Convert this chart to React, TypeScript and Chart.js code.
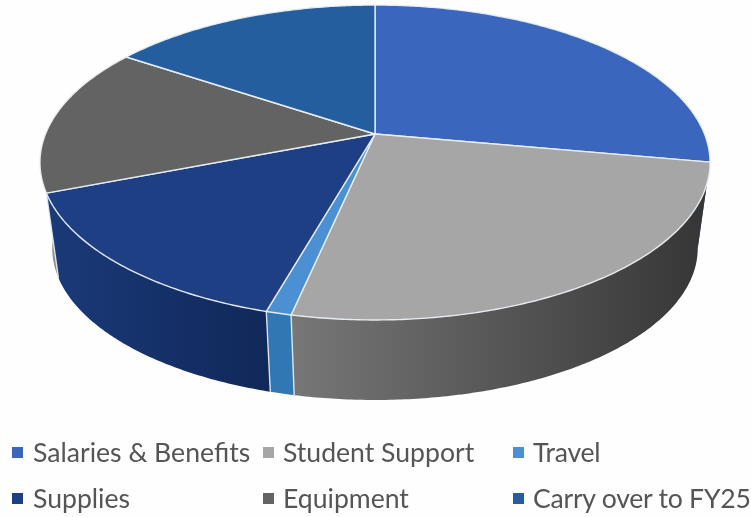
import React, { useEffect, useRef } from "react";
import { Chart, registerables } from "chart.js";

Chart.register(...registerables);

const categories = ["Salaries & Benefits", "Student Support", "Travel", "Supplies", "Equipment", "Carry over to FY25"];
const shares = [27.85, 25.5, 1.03, 14.7, 15.3, 15.6];
const topColors = ["#3b66bd", "#a6a6a6", "#4a90d2", "#1f3f85", "#636363", "#255e9e"];
const wallNear = ["#2a4a8c", "#777777", "#2f78b4", "#1a3a78", "#8a8a8a", "#1c4674"];
const wallFar = ["#2a4a8c", "#353535", "#2f78b4", "#11285a", "#8a8a8a", "#1c4674"];
const legendMarkerColumns = [12, 263, 513];
const legendTextColumns = [33, 283, 533];
const legendColumnTracking = [0, 0, -0.25];
const legendRows = [452, 498];

// Perspective applied to the disc, and the point its walls converge on.
const CX = 375;
const CY = 134;
const RX = 329.5;
const RY = 152.3;
const TILT = 0.181;
const VANISH_Y = 2500;
const DEPTH_SCALE = 0.9633;

type Pt = { x: number; y: number };

const rimPoint = (angle: number): Pt => {
  const w = 1 - TILT * Math.sin(angle);
  return { x: CX + (RX * Math.cos(angle)) / w, y: CY + (RY * Math.sin(angle)) / w };
};

const dropPoint = (p: Pt): Pt => ({
  x: CX + DEPTH_SCALE * (p.x - CX),
  y: VANISH_Y - DEPTH_SCALE * (VANISH_Y - p.y),
});

const sampleArc = (start: number, end: number): number[] => {
  const steps = Math.max(2, Math.ceil((end - start) / 0.01));
  const out: number[] = [];
  for (let i = 0; i <= steps; i++) out.push(start + ((end - start) * i) / steps);
  return out;
};

const tiltedPie = {
  id: "tiltedPie",
  beforeDatasetsDraw(chart: any) {
    const ctx: CanvasRenderingContext2D = chart.ctx;
    const arcs = chart.getDatasetMeta(0).data.map((el: any, index: number) => {
      const { startAngle, endAngle } = el.getProps(["startAngle", "endAngle"], true);
      return { index, startAngle, endAngle };
    });
    ctx.save();
    ctx.lineJoin = "round";

    // Outer walls, far slices first.
    const byDepth = [...arcs].sort(
      (a: any, b: any) =>
        Math.sin((a.startAngle + a.endAngle) / 2) - Math.sin((b.startAngle + b.endAngle) / 2)
    );
    for (const arc of byDepth) {
      const rim = sampleArc(arc.startAngle, arc.endAngle).map(rimPoint);
      const lower = rim.map(dropPoint);
      const xs = rim.map((p: Pt) => p.x);
      const grad = ctx.createLinearGradient(Math.min(...xs), 0, Math.max(...xs), 0);
      grad.addColorStop(0, wallNear[arc.index]);
      grad.addColorStop(1, wallFar[arc.index]);
      ctx.beginPath();
      rim.forEach((p: Pt, i: number) => (i ? ctx.lineTo(p.x, p.y) : ctx.moveTo(p.x, p.y)));
      [...lower].reverse().forEach((p: Pt) => ctx.lineTo(p.x, p.y));
      ctx.closePath();
      ctx.fillStyle = grad;
      ctx.fill();
    }

    // Vertical seams between slices on the visible part of the wall.
    ctx.strokeStyle = "rgba(235,240,245,0.9)";
    ctx.lineWidth = 1.4;
    for (const arc of arcs) {
      if (Math.sin(arc.startAngle) <= 0.2) continue;
      const p = rimPoint(arc.startAngle);
      const q = dropPoint(p);
      ctx.beginPath();
      ctx.moveTo(p.x, p.y);
      ctx.lineTo(q.x, q.y);
      ctx.stroke();
    }

    // Top face.
    for (const arc of arcs) {
      ctx.beginPath();
      ctx.moveTo(CX, CY);
      sampleArc(arc.startAngle, arc.endAngle).map(rimPoint).forEach((p: Pt) => ctx.lineTo(p.x, p.y));
      ctx.closePath();
      ctx.fillStyle = topColors[arc.index];
      ctx.fill();
      ctx.strokeStyle = "rgba(235,240,245,0.95)";
      ctx.lineWidth = 1.4;
      ctx.stroke();
    }
    ctx.restore();
    return false;
  },
};

export default function App() {
  const canvasRef = useRef<HTMLCanvasElement>(null);

  useEffect(() => {
    document.body.style.margin = "0";
    const chart = new Chart(canvasRef.current!, {
      type: "pie",
      data: {
        labels: categories,
        datasets: [{ data: shares, backgroundColor: topColors }],
      },
      options: {
        responsive: false,
        animation: false,
        plugins: { legend: { display: false }, tooltip: { enabled: false } },
      },
      plugins: [tiltedPie],
    });
    return () => chart.destroy();
  }, []);

  return (
    <div style={{ position: "relative", width: 751, height: 517, background: "#fefefe", overflow: "hidden" }}>
      <canvas ref={canvasRef} width={751} height={517} style={{ display: "block" }} />
      {categories.map((name, i) => {
        const y = legendRows[Math.floor(i / 3)];
        return (
          <React.Fragment key={name}>
            <span
              style={{
                position: "absolute",
                left: legendMarkerColumns[i % 3],
                top: y - 5,
                width: 11,
                height: 11,
                background: topColors[i],
              }}
            />
            <span
              style={{
                position: "absolute",
                left: legendTextColumns[i % 3],
                top: y - 20,
                lineHeight: "40px",
                height: 40,
                fontFamily: "Lato, sans-serif",
                fontSize: 26.6,
                letterSpacing: legendColumnTracking[i % 3],
                color: "#555555",
                whiteSpace: "nowrap",
              }}
            >
              {name}
            </span>
          </React.Fragment>
        );
      })}
    </div>
  );
}
